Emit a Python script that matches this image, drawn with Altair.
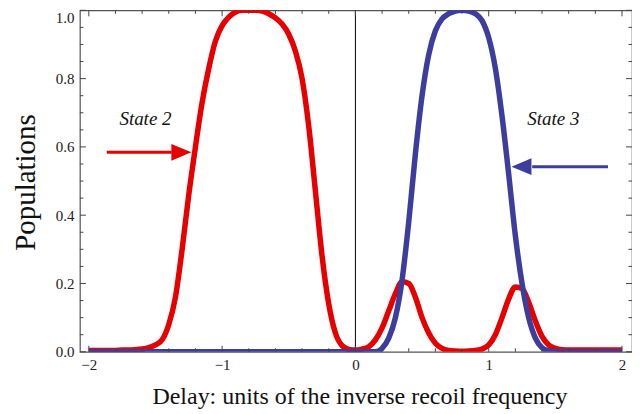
import altair as alt
import pandas as pd

# ---- data ----
x_grid = [round(-2 + 0.05 * i, 2) for i in range(81)]

state2 = [0.004, 0.004, 0.004, 0.004, 0.004, 0.005, 0.005, 0.006, 0.008, 0.012,
          0.02, 0.035, 0.08, 0.16, 0.30, 0.46, 0.60, 0.73, 0.83, 0.91,
          0.955, 0.98, 0.995, 1.0, 1.0, 1.0, 0.998, 0.99, 0.978, 0.96,
          0.93, 0.88, 0.80, 0.66, 0.47, 0.28, 0.14, 0.055, 0.018, 0.007,
          0.005, 0.008, 0.015, 0.035, 0.07, 0.12, 0.17, 0.205, 0.20, 0.16,
          0.10, 0.055, 0.025, 0.01, 0.004, 0.002, 0.001, 0.002, 0.004, 0.008,
          0.02, 0.05, 0.10, 0.155, 0.19, 0.185, 0.145, 0.09, 0.045, 0.02,
          0.01, 0.006, 0.005, 0.005, 0.005, 0.005, 0.005, 0.005, 0.005, 0.005,
          0.005]

state3 = [0.0] * 44 + [0.01, 0.04, 0.10, 0.21, 0.38, 0.58, 0.75, 0.87, 0.94, 0.975,
                       0.99, 0.998, 1.0, 0.998, 0.99, 0.97, 0.92, 0.83, 0.69, 0.52,
                       0.34, 0.20, 0.10, 0.04, 0.012, 0.003] + [0.0] * 11

x_major = [-2, -1, 0, 1, 2]
x_minor = [round(-2 + 0.2 * i, 1) for i in range(21) if i % 5 != 0]
y_major = [0.0, 0.2, 0.4, 0.6, 0.8, 1.0]
y_minor = [round(0.05 * i, 2) for i in range(21) if i % 4 != 0]

labels = ["State 2", "State 3"]
label_x = [-1.575, 1.485]
label_y = [0.663, 0.663]

arrow_series = ["State 2", "State 3"]
arrow_start = [-1.865, 1.895]
arrow_base = [-1.378, 1.326]
arrow_tip = [-1.231, 1.171]
arrow_y = [0.584, 0.542]

RED = "#e60000"
BLUE = "#3d3d9e"
FONT = "Liberation Serif"
W, H = 553, 342
XDOM = [-2.067, 2.075]

curves = pd.DataFrame({"x": x_grid * 2,
                       "y": state2 + state3,
                       "s": ["State 2"] * 81 + ["State 3"] * 81,
                       "o": [0] * 81 + [1] * 81})

xs = alt.Scale(domain=XDOM, nice=False, zero=False)
ys = alt.Scale(domain=[0, 1], nice=False)
col = alt.Scale(domain=["State 2", "State 3"], range=[RED, BLUE])

xaxis = alt.Axis(values=x_major, format=".0f", domain=False, ticks=False, grid=False,
                 labelFont=FONT, labelFontSize=15, labelColor="#222",
                 labelPadding=6, title="Delay: units of the inverse recoil frequency",
                 titleFont=FONT, titleFontSize=24, titleFontWeight="normal",
                 titleColor="#111", titleX=280, titleY=52, titleBaseline="alphabetic")
yaxis = alt.Axis(values=y_major, format=".1f", domain=False, ticks=False, grid=False,
                 labelFont=FONT, labelFontSize=15, labelColor="#222",
                 labelPadding=6, labelBound=False,
                 labelBaseline={"condition": {"test": "datum.value == 1", "value": "top"},
                                "value": "middle"},
                 title="Populations",
                 titleFont=FONT, titleFontSize=29, titleFontWeight="normal",
                 titleColor="#111", titleX=-54, titleY=172, titleAngle=-90,
                 titleAlign="center", titleBaseline="middle")

base = alt.Chart(curves)

zero_line = alt.Chart(pd.DataFrame({"x": [0]})).mark_rule(color="black", strokeWidth=1).encode(
    x=alt.X("x:Q", scale=xs, axis=xaxis))

lines = base.mark_line(strokeWidth=5.5, interpolate="monotone", clip=True).encode(
    x=alt.X("x:Q", scale=xs, axis=xaxis),
    y=alt.Y("y:Q", scale=ys, axis=yaxis),
    color=alt.Color("s:N", scale=col, legend=None),
    detail="s:N",
    order="o:Q")

tick_color = "#444"
xt_major = pd.DataFrame({"v": x_major})
xt_minor = pd.DataFrame({"v": x_minor})
yt_major = pd.DataFrame({"v": y_major})
yt_minor = pd.DataFrame({"v": y_minor})

def xticks(df, L):
    b = alt.Chart(df).mark_rule(color=tick_color, strokeWidth=1)
    bottom = b.encode(x=alt.X("v:Q", scale=xs), y=alt.value(H), y2=alt.value(H - L))
    top = b.encode(x=alt.X("v:Q", scale=xs), y=alt.value(0), y2=alt.value(L))
    return [bottom, top]

def yticks(df, L):
    b = alt.Chart(df).mark_rule(color=tick_color, strokeWidth=1)
    left = b.encode(y=alt.Y("v:Q", scale=ys), x=alt.value(0), x2=alt.value(L))
    right = b.encode(y=alt.Y("v:Q", scale=ys), x=alt.value(W), x2=alt.value(W - L))
    return [left, right]

ticks = xticks(xt_major, 6) + xticks(xt_minor, 3.5) + yticks(yt_major, 6) + yticks(yt_minor, 3.5)

lab_df = pd.DataFrame({"t": labels, "x": label_x, "y": label_y})
texts = alt.Chart(lab_df).mark_text(font=FONT, fontSize=19, fontStyle="italic",
                                    align="center", baseline="alphabetic", color="#111").encode(
    x=alt.X("x:Q", scale=xs), y=alt.Y("y:Q", scale=ys), text="t:N")

arr_df = pd.DataFrame({"s": arrow_series, "x0": arrow_start, "x1": arrow_base,
                       "xt": arrow_tip, "y": arrow_y,
                       "shape": ["M0,0 L-1,-0.42 L-1,0.42 Z", "M0,0 L1,-0.42 L1,0.42 Z"]})
shafts = alt.Chart(arr_df).mark_rule(strokeWidth=3).encode(
    x=alt.X("x0:Q", scale=xs), x2="x1:Q", y=alt.Y("y:Q", scale=ys),
    color=alt.Color("s:N", scale=col, legend=None))
heads = alt.Chart(arr_df).mark_point(filled=True, opacity=1, size=1600, strokeWidth=0).encode(
    x=alt.X("xt:Q", scale=xs), y=alt.Y("y:Q", scale=ys),
    shape=alt.Shape("shape:N", scale=None, legend=None),
    color=alt.Color("s:N", scale=col, legend=None))

chart = alt.layer(zero_line, lines, *ticks, texts, shafts, heads).properties(
    width=W, height=H,
    autosize=alt.AutoSizeParams(type="none"),
    padding={"left": 72, "top": 2, "right": 0, "bottom": 61},
    background="white",
).configure_view(stroke="#555", strokeWidth=1.2)

chart.save("out.html", embed_options={"renderer": "svg", "actions": False})
